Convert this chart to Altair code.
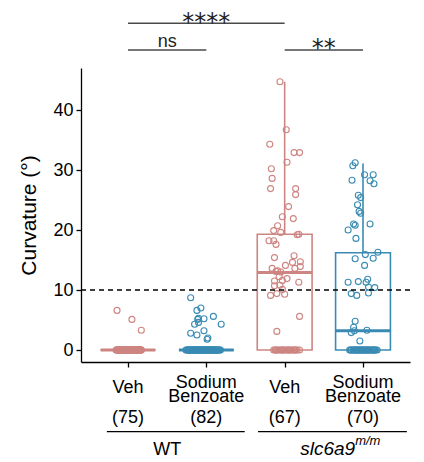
import altair as alt
import pandas as pd

# ---------------- data ----------------
POS = [1, 2, 3, 4]
TREAT = ["Veh", "Sodium Benzoate", "Veh", "Sodium Benzoate"]
N = [75, 82, 67, 70]

# box statistics
Q1 = [0, 0, 0, 0]
MED = [0, 0, 12.9, 3.2]
Q3 = [0, 0, 19.3, 16.2]
WHI = [0, 0, 44.7, 31.1]

# non-zero observations (value, horizontal jitter in group units)
wt_veh_vals = [6.6, 5.1, 3.3]
wt_veh_jit = [-0.14, 0.05, 0.17]
wt_veh_zero_jit = [
    -0.15, -0.13, -0.12, -0.1, -0.09, -0.08, -0.07, -0.05, -0.04, -0.03, -0.02, 0.0,
    0.01, 0.02, 0.04, 0.05, 0.06, 0.08, 0.09, 0.1, 0.12, 0.13, 0.15, 0.17,
    -0.14, -0.11, -0.06, -0.01, 0.03, 0.07, 0.11, 0.14, 0.16, -0.12, -0.08, -0.03,
    0.02, 0.06, 0.1, 0.13, -0.15, -0.1, -0.05, 0.0, 0.05, 0.09, 0.12, 0.16,
    -0.13, -0.09, -0.04, 0.01, 0.04, 0.08, 0.11, 0.15, -0.11, -0.07, -0.02, 0.03,
    0.07, 0.1, 0.14, -0.14, -0.06, 0.0, 0.06, 0.12, -0.09, 0.02, 0.09, 0.17]

wt_sb_vals = [8.7, 6.6, 7.0, 5.1, 5.3, 5.2, 5.6, 4.3, 4.6, 4.3, 2.8, 2.5, 3.2, 1.8, 2.0]
wt_sb_jit = [-0.20, -0.12, -0.07, -0.11, -0.10, -0.03, 0.09, -0.15, -0.10, 0.19,
             -0.20, -0.12, -0.03, 0.01, 0.02]
wt_sb_zero_jit = [
    -0.26, -0.24, -0.22, -0.2, -0.18, -0.16, -0.14, -0.12, -0.1, -0.08, -0.06, -0.04,
    -0.02, 0.0, 0.02, 0.04, 0.06, 0.08, 0.1, 0.12, 0.14, 0.16, 0.18,
    -0.25, -0.21, -0.17, -0.13, -0.09, -0.05, -0.01, 0.03, 0.07, 0.11, 0.15, -0.23,
    -0.19, -0.15, -0.11, -0.07, -0.03, 0.01, 0.05, 0.09, 0.13, 0.17,
    -0.2, -0.16, -0.12, -0.08, -0.04, 0.0, 0.04, 0.08, 0.12, -0.22, -0.18, -0.14,
    -0.1, -0.06, -0.02, 0.02, 0.06, 0.1, 0.14, -0.11, 0.0, 0.07]

mut_veh_vals = [44.7, 36.7, 34.3, 32.9, 32.9, 31.3, 30.2, 28.6, 26.9, 26.9, 25.9, 23.9,
                22.2, 21.9, 20.7, 19.9, 19.6, 19.2, 19.3, 18.2, 18.2, 17.6, 15.4, 15.7,
                14.6, 14.7, 14.1, 13.6, 13.9, 13.6, 13.2, 13.1, 13.0, 11.9, 11.5, 12.2,
                11.6, 11.3, 10.7, 10.8, 10.1, 9.1, 9.4, 9.3, 5.6, 3.1]
mut_veh_jit = [-0.06, 0.02, -0.19, 0.12, 0.19, 0.03, -0.17, -0.16, -0.18, 0.14, 0.14, 0.05,
               -0.03, 0.11, -0.09, -0.14, -0.05, 0.16, 0.18, -0.20, -0.14, -0.11, -0.13, 0.12,
               0.10, 0.20, 0.01, 0.13, 0.20, -0.16, -0.09, -0.11, -0.05, 0.03, -0.13, -0.07,
               -0.03, 0.18, -0.13, -0.06, -0.03, -0.18, -0.10, 0.00, 0.19, -0.10]
mut_veh_zero_jit = [-0.14, -0.12, -0.1, -0.08, -0.06, -0.04, -0.02, 0.0, 0.02, 0.04, 0.06,
                    0.08, 0.1, 0.12, 0.14, 0.16, 0.19, -0.11, -0.03, 0.05, 0.13]

mut_sb_vals = [31.2, 30.7, 29.2, 29.2, 28.3, 28.2, 27.7, 25.8, 25.4, 24.2, 23.1, 22.8,
               21.0, 20.8, 21.0, 20.0, 18.6, 16.3, 15.9, 15.3, 15.2, 14.1, 11.3, 11.4,
               11.8, 11.3, 10.5, 10.4, 9.4, 9.1, 9.5, 4.8, 3.8, 2.9, 3.2, 3.3, 1.5]
mut_sb_jit = [-0.10, -0.13, 0.02, 0.13, -0.14, 0.09, 0.14, -0.06, -0.03, -0.07, -0.05, -0.03,
              -0.12, -0.10, 0.09, -0.19, -0.09, 0.19, 0.03, 0.13, -0.10, 0.02, -0.19, -0.06,
              0.06, 0.04, 0.07, 0.15, -0.15, -0.08, 0.07, -0.10, -0.12, -0.15, -0.11, 0.05,
              -0.04]
mut_sb_zero_jit = [-0.17, -0.15, -0.13, -0.11, -0.09, -0.07, -0.05, -0.03, -0.01, 0.01, 0.03,
                   0.05, 0.07, 0.09, 0.11, 0.13, 0.15, 0.18, -0.16, -0.12, -0.08, -0.04,
                   0.0, 0.04, 0.08, 0.12, 0.16, -0.1, -0.02, 0.06, 0.14, -0.06, 0.02]

# significance annotations
SIG_X1 = [1, 1, 3]
SIG_X2 = [3, 2, 4]
SIG_Y = [54.45, 50.0, 50.0]
SIG_TEXT = ["****", "ns", "**"]
SIG_TEXT_Y = [53.4, 50.55, 49.0]

# genotype groups
GRP_X1 = [0.73, 2.66]
GRP_X2 = [2.49, 4.56]

SALMON = "#CD8581"
BLUE = "#3A8BB3"
FONT = "Liberation Sans"
HALF = 0.35

# ---------------- tables ----------------
rows = []
sets = [
    (wt_veh_vals, wt_veh_jit, wt_veh_zero_jit),
    (wt_sb_vals, wt_sb_jit, wt_sb_zero_jit),
    (mut_veh_vals, mut_veh_jit, mut_veh_zero_jit),
    (mut_sb_vals, mut_sb_jit, mut_sb_zero_jit),
]
for i, (vals, jit, zjit) in enumerate(sets):
    for v, j in zip(vals, jit):
        rows.append({"x": POS[i] + j, "y": v, "treat": TREAT[i]})
    for j in zjit:
        rows.append({"x": POS[i] + j, "y": 0.0, "treat": TREAT[i]})
pts = pd.DataFrame(rows)

box = pd.DataFrame({
    "pos": POS, "treat": TREAT, "q1": Q1, "med": MED, "q3": Q3, "whi": WHI,
})
box["left"] = box["pos"] - HALF
box["right"] = box["pos"] + HALF

sig = pd.DataFrame({"x1": SIG_X1, "x2": SIG_X2, "y": SIG_Y, "label": SIG_TEXT,
                    "ty": SIG_TEXT_Y})
sig["xm"] = (sig["x1"] + sig["x2"]) / 2
grp = pd.DataFrame({"x1": GRP_X1, "x2": GRP_X2})

lab = pd.DataFrame({"pos": POS, "treat": TREAT, "n": [f"({v})" for v in N]})
lab["first"] = lab["treat"].str.split(" ").str[0]
lab["second"] = lab["treat"].str.split(" ").str[1]
veh_lab = lab[lab["treat"] == "Veh"]
sb_lab = lab[lab["treat"] != "Veh"]

xscale = alt.Scale(domain=[0.4, 4.6], nice=False, zero=False)
yscale = alt.Scale(domain=[-2, 47], nice=False, zero=False)
cscale = alt.Scale(domain=["Veh", "Sodium Benzoate"], range=[SALMON, BLUE])

xaxis = alt.Axis(values=POS, labels=False, title=None, grid=False,
                 tickSize=5, tickWidth=1.3, tickColor="black",
                 domainColor="black", domainWidth=1.3)
yaxis = alt.Axis(values=[0, 10, 20, 30, 40], title="Curvature (°)", grid=False,
                 labelFontSize=18, labelPadding=3, tickSize=5, tickWidth=1.3,
                 tickColor="black", domainColor="black", domainWidth=1.3,
                 labelColor="black", titleFontSize=21, titleFontWeight="normal",
                 titleColor="black", titlePadding=13, labelFont=FONT, titleFont=FONT)

base_box = alt.Chart(box)
boxes = base_box.mark_rect(fillOpacity=0, strokeWidth=1.6).encode(
    x=alt.X("left:Q", scale=xscale, axis=xaxis),
    x2="right:Q",
    y=alt.Y("q1:Q", scale=yscale, axis=yaxis),
    y2="q3:Q",
    stroke=alt.Stroke("treat:N", scale=cscale, legend=None),
)
whisk = base_box.mark_rule(strokeWidth=1.6).encode(
    x=alt.X("pos:Q", scale=xscale), y=alt.Y("q3:Q", scale=yscale), y2="whi:Q",
    color=alt.Color("treat:N", scale=cscale, legend=None),
)
meds = base_box.mark_rule(strokeWidth=3).encode(
    x=alt.X("left:Q", scale=xscale), x2="right:Q", y=alt.Y("med:Q", scale=yscale),
    color=alt.Color("treat:N", scale=cscale, legend=None),
)
points = alt.Chart(pts).mark_point(shape="circle", filled=False, size=36,
                                   strokeWidth=1.1, opacity=1).encode(
    x=alt.X("x:Q", scale=xscale), y=alt.Y("y:Q", scale=yscale),
    color=alt.Color("treat:N", scale=cscale, legend=None),
)
hline = alt.Chart(pd.DataFrame({"y": [10]})).mark_rule(
    strokeDash=[5, 4], strokeWidth=1.3, color="black").encode(
    y=alt.Y("y:Q", scale=yscale), x=alt.value(0), x2=alt.value(329))

sig_lines = alt.Chart(sig).mark_rule(strokeWidth=1.4, color="#4a4a4a").encode(
    x=alt.X("x1:Q", scale=xscale), x2="x2:Q", y=alt.Y("y:Q", scale=yscale))
stars = alt.Chart(sig[sig["label"] != "ns"]).mark_text(
    fontSize=24, font="DejaVu Sans", baseline="alphabetic", color="#222").encode(
    x=alt.X("xm:Q", scale=xscale), y=alt.Y("ty:Q", scale=yscale), text="label:N")
ns = alt.Chart(sig[sig["label"] == "ns"]).mark_text(
    fontSize=18, font=FONT, baseline="alphabetic", color="#222").encode(
    x=alt.X("xm:Q", scale=xscale), y=alt.Y("ty:Q", scale=yscale), text="label:N")

# category labels under the axis
def label_layer(df, field, ypix):
    return alt.Chart(df).mark_text(fontSize=18, font=FONT, baseline="alphabetic",
                                   color="black").encode(
        x=alt.X("pos:Q", scale=xscale), y=alt.value(ypix), text=f"{field}:N")

veh_text = label_layer(veh_lab, "first", 324.7)
sod_text = label_layer(sb_lab, "first", 319.6)
benz_text = label_layer(sb_lab, "second", 334.4)
n_text = label_layer(lab, "n", 355.3)

grp_lines = alt.Chart(grp).mark_rule(strokeWidth=1.3, color="black").encode(
    x=alt.X("x1:Q", scale=xscale), x2="x2:Q", y=alt.value(363.7))
wt = alt.Chart(pd.DataFrame({"x": [1.5], "t": ["WT"]})).mark_text(
    fontSize=18, font=FONT, baseline="alphabetic", color="black").encode(
    x=alt.X("x:Q", scale=xscale), y=alt.value(387), text="t:N")
slc = alt.Chart(pd.DataFrame({"x": [3.9], "t": ["slc6a9"]})).mark_text(
    fontSize=19, font=FONT, fontStyle="italic", baseline="alphabetic", align="right",
    color="black").encode(
    x=alt.X("x:Q", scale=xscale), y=alt.value(387), text="t:N")
sup = alt.Chart(pd.DataFrame({"x": [3.9], "t": ["m/m"]})).mark_text(
    fontSize=13, font=FONT, fontStyle="italic", baseline="alphabetic", align="left",
    color="black").encode(
    x=alt.X("x:Q", scale=xscale), y=alt.value(377), text="t:N")

chart = alt.layer(
    boxes, whisk, meds, points, hline, sig_lines, stars, ns,
    veh_text, sod_text, benz_text, n_text, grp_lines, wt, slc, sup
).properties(
    width=329, height=294,
    autosize=alt.AutoSizeParams(type="none"),
    padding={"left": 81, "top": 68, "right": 14, "bottom": 100},
    background="white",
).configure_view(stroke=None)

chart.save("out.html", embed_options={"renderer": "svg", "actions": False})
